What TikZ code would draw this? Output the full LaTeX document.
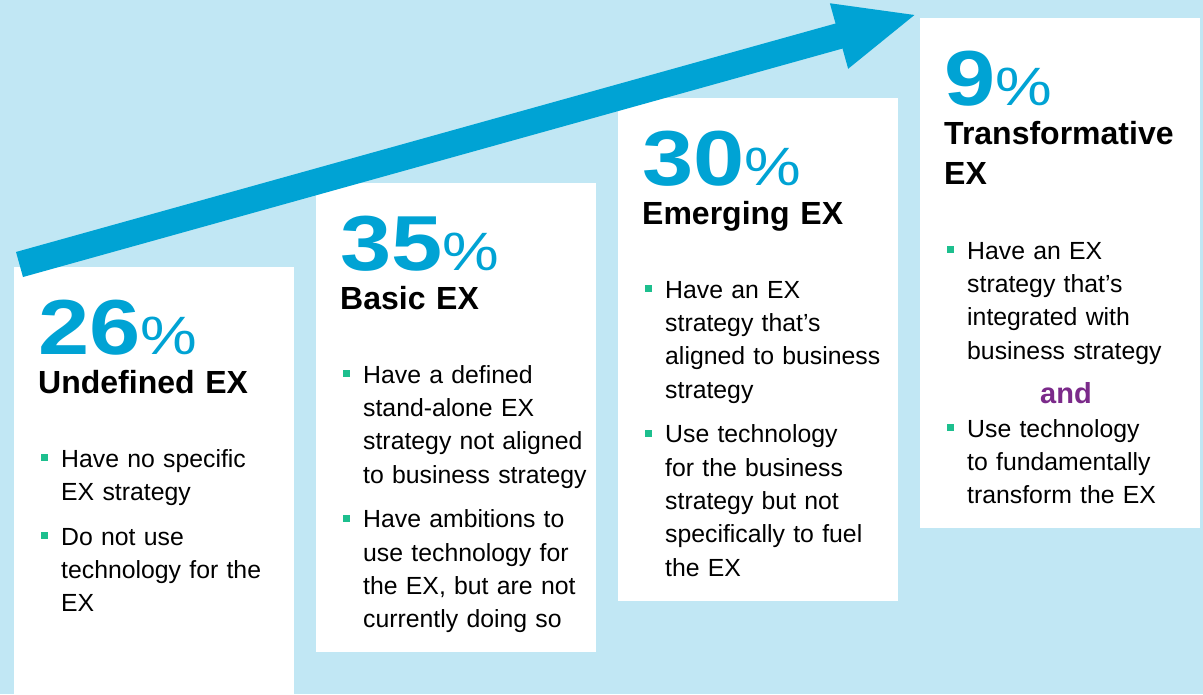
\documentclass[tikz,border=0pt]{standalone}
\usepackage{fontspec}
\usepackage{graphicx}
\setmainfont{Liberation Sans}
\usetikzlibrary{arrows.meta}
\definecolor{bgblue}{HTML}{C1E7F4}
\definecolor{exblue}{HTML}{00A3D4}
\definecolor{bulgreen}{HTML}{1DBF8E}
\definecolor{andpurple}{HTML}{7B2A8A}
\newcommand{\bsq}{\leavevmode\llap{\textcolor{bulgreen}{\rule[6pt]{7pt}{7pt}}\hspace{13pt}}}
\newcommand{\pctline}[1]{\scalebox{1.18}[1]{\fontsize{78}{78}\selectfont\bfseries #1\fontsize{54}{54}\selectfont\mdseries\%}}
\tikzset{
  box/.style={fill=white, inner sep=0pt, anchor=north west, minimum width=280pt},
  pcttext/.style={anchor=base west, inner sep=0pt, text=exblue},
  titletext/.style={anchor=base west, inner sep=0pt, text width=260pt, align=left,
    font=\fontsize{32}{40}\selectfont\bfseries},
  bullettext/.style={anchor=base west, inner sep=0pt, text width=240pt, align=left,
    font=\fontsize{24.8}{33.4}\selectfont},
  andtext/.style={anchor=base, inner sep=0pt, text=andpurple, font=\fontsize{29}{30}\selectfont\bfseries},
  bigarrow/.style={draw=exblue, line width=26pt, -{Triangle[length=82pt,width=61pt]}}
}
\begin{document}
\begin{tikzpicture}[x=1pt,y=-1pt]
\useasboundingbox (0,0) rectangle (1203,694);
\fill[bgblue] (0,0) rectangle (1203,694);
% boxes
\node[box, minimum height=427pt] (b1) at (14,267) {};
\node[box, minimum height=469pt] (b2) at (316,183) {};
\node[box, minimum height=503pt] (b3) at (618,98) {};
\node[box, minimum height=510pt] (b4) at (920,18) {};
% box 1
\node[pcttext] (p1) at (38,354) {\pctline{26}};
\node[titletext] (t1) at (38,393) {Undefined EX};
\node[bullettext] (b1a) at (61,467) {\bsq Have no specific\\EX strategy};
\node[bullettext] (b1b) at (61,545) {\bsq Do not use\\technology for the\\EX};
% box 2
\node[pcttext] (p2) at (340,270) {\pctline{35}};
\node[titletext] (t2) at (340,309) {Basic EX};
\node[bullettext] (b2a) at (363,383) {\bsq Have a defined\\stand-alone EX\\strategy not aligned\\to business strategy};
\node[bullettext] (b2b) at (363,527.7) {\bsq Have ambitions to\\use technology for\\the EX, but are not\\currently doing so};
% box 3
\node[pcttext] (p3) at (642,185) {\pctline{30}};
\node[titletext] (t3) at (642,224) {Emerging EX};
\node[bullettext] (b3a) at (665,298) {\bsq Have an EX\\strategy that’s\\aligned to business\\strategy};
\node[bullettext] (b3b) at (665,442.7) {\bsq Use technology\\for the business\\strategy but not\\specifically to fuel\\the EX};
% box 4
\node[pcttext] (p4) at (944,105) {\pctline{9}};
\node[titletext] (t4) at (944,144) {Transformative\\EX};
\node[bullettext] (b4a) at (967,259) {\bsq Have an EX\\strategy that’s\\integrated with\\business strategy};
\node[andtext] (and) at (1066,403) {and};
\node[bullettext] (b4b) at (967,437) {\bsq Use technology\\to fundamentally\\transform the EX};
% arrow
\coordinate (arrowtail) at (19.5,264.5);
\coordinate (arrowtip) at (918,14);
\draw[bigarrow] (arrowtail) -- (arrowtip);
\end{tikzpicture}
\end{document}
